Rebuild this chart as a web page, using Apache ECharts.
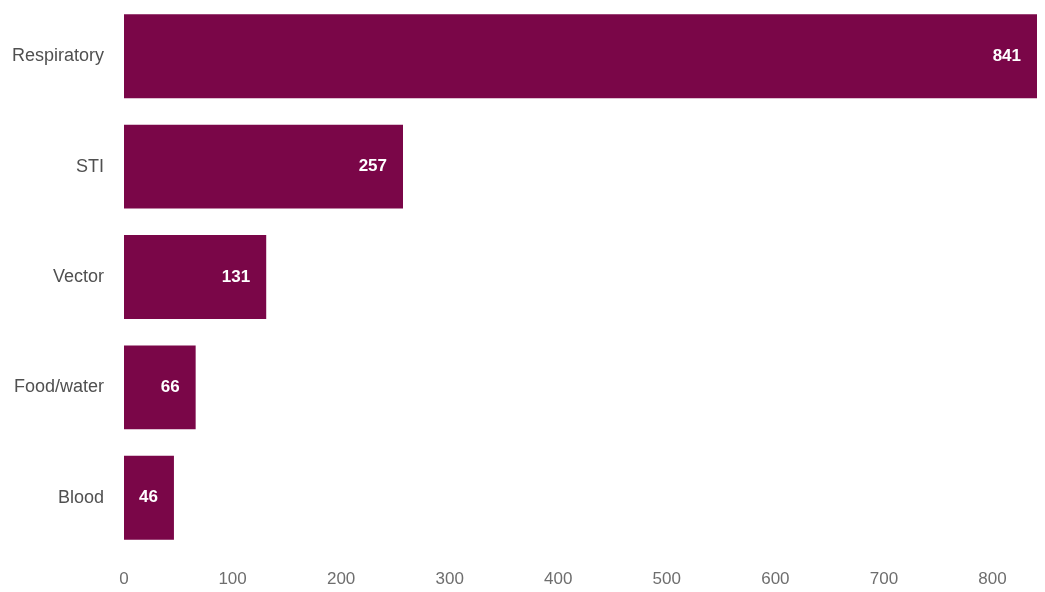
<!DOCTYPE html>
<html>
<head>
<meta charset="utf-8">
<script src="https://cdn.jsdelivr.net/npm/echarts@6/dist/echarts.min.js"></script>
<style>
  html, body { margin: 0; padding: 0; background: #ffffff; }
  #chart { width: 1045px; height: 592px; }
</style>
</head>
<body>
<div id="chart"></div>
<script>
// Transmission routes, listed top to bottom
const categories = ['Respiratory', 'STI', 'Vector', 'Food/water', 'Blood'];
const counts = [841, 257, 131, 66, 46];
const xTicks = [0, 100, 200, 300, 400, 500, 600, 700, 800];

const font = '"Liberation Sans", Arial, sans-serif';

const chart = echarts.init(document.getElementById('chart'), null, { renderer: 'canvas' });

chart.setOption({
  animation: false,
  backgroundColor: '#ffffff',
  grid: { left: 124, right: 8, top: 1, height: 552, containLabel: false },
  xAxis: {
    type: 'value',
    min: 0,
    max: Math.max(...counts),
    interval: xTicks[1] - xTicks[0],
    axisLine: { show: false },
    axisTick: { show: false },
    splitLine: { show: false },
    axisLabel: {
      margin: 18,
      color: '#6e6e6e',
      fontFamily: font,
      fontSize: 17,
      showMaxLabel: false,
      formatter: v => (xTicks.includes(v) ? String(v) : '')
    }
  },
  yAxis: {
    type: 'category',
    inverse: true,
    data: categories,
    axisLine: { show: false },
    axisTick: { show: false },
    axisLabel: {
      margin: 20,
      color: '#505050',
      fontFamily: font,
      fontSize: 18,
      padding: [4, 0, 0, 0]
    }
  },
  series: [{
    type: 'bar',
    data: counts,
    barCategoryGap: '24%',
    itemStyle: { color: '#7a0648' },
    label: {
      show: true,
      position: 'insideRight',
      distance: 16,
      color: '#ffffff',
      fontWeight: 'bold',
      fontFamily: font,
      fontSize: 17,
      padding: [3, 0, 0, 0]
    }
  }]
});
</script>
</body>
</html>
